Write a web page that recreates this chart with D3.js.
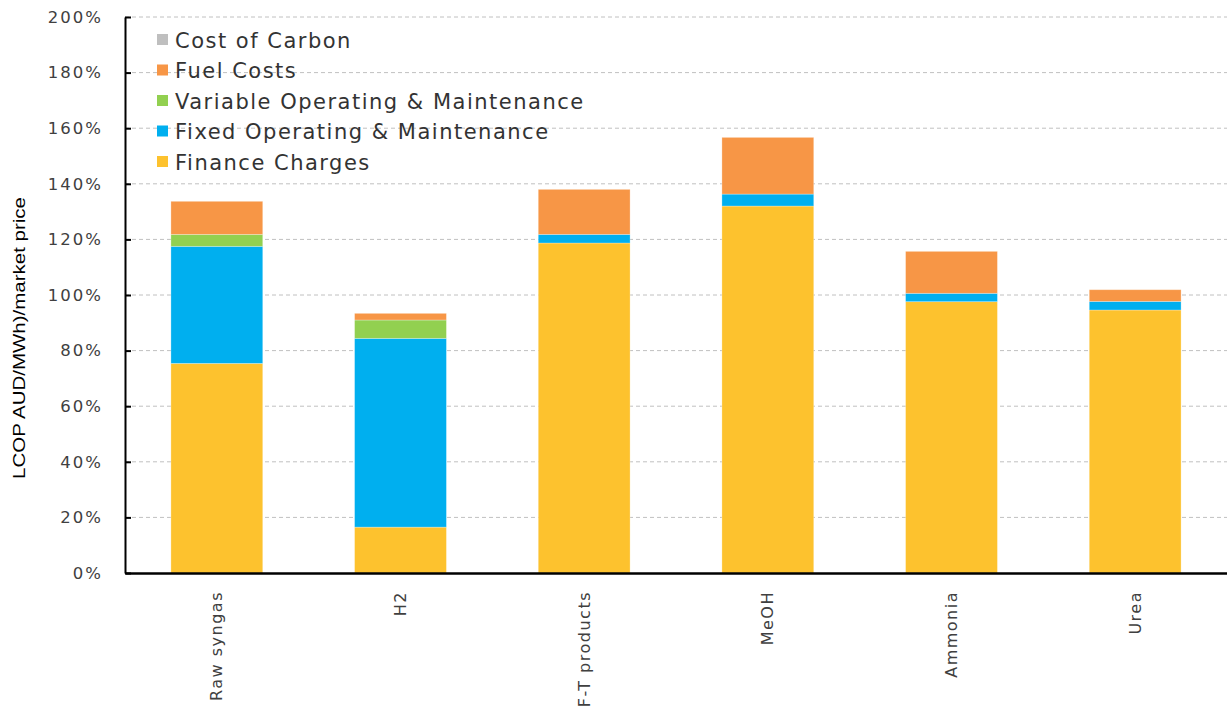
<!DOCTYPE html>
<html><head><meta charset="utf-8">
<script src="https://cdn.jsdelivr.net/npm/d3@7"></script>
<style>body{margin:0;background:#fff}svg{display:block}</style>
</head><body>
<svg id="c" width="1227" height="708"></svg>
<script>
const categories = ["Raw syngas","H2","F-T products","MeOH","Ammonia","Urea"];
const seriesNames = ["Finance Charges","Fixed Operating & Maintenance","Variable Operating & Maintenance","Fuel Costs","Cost of Carbon"];
const financeCharges = [75.4, 16.5, 118.7, 132.0, 97.6, 94.6];
const fixedOM = [42.1, 67.9, 3.1, 4.3, 3.0, 3.1];
const variableOM = [4.3, 6.6, 0, 0, 0, 0];
const fuelCosts = [11.9, 2.4, 16.2, 20.4, 15.1, 4.2];
const costOfCarbon = [0, 0, 0, 0, 0, 0];
const yTicks = [0,20,40,60,80,100,120,140,160,180,200];
const colors = ["#FDC22E","#00AFEF","#92D050","#F79646","#BFBFBF"];

const seriesValues = [financeCharges, fixedOM, variableOM, fuelCosts, costOfCarbon];
const rows = categories.map((c,i)=>{const r={cat:c}; seriesNames.forEach((s,j)=>r[s]=seriesValues[j][i]); return r;});
const stack = d3.stack().keys(seriesNames)(rows);

const svg = d3.select("#c");
const L=125, R=1227, T=17, B=573;
const x = d3.scaleBand().domain(categories).range([L,R]).paddingInner(0.5).paddingOuter(0.25);
const y = d3.scaleLinear().domain([0,200]).range([B,T]);
const font = "'DejaVu Sans', sans-serif";

// gridlines
svg.append("g").selectAll("line").data(yTicks.filter(t=>t>0)).join("line")
  .attr("x1",L).attr("x2",R).attr("y1",d=>y(d)).attr("y2",d=>y(d))
  .attr("stroke","#C0C0C0").attr("stroke-width",1).attr("stroke-dasharray","4,3");

// bars
svg.append("g").selectAll("g").data(stack).join("g").attr("fill",(d,i)=>colors[i])
  .selectAll("rect").data(d=>d).join("rect")
  .attr("x",d=>x(d.data.cat)).attr("width",x.bandwidth())
  .attr("y",d=>y(d[1])).attr("height",d=>Math.max(0,y(d[0])-y(d[1])))
  .attr("stroke",(d)=> d[1]-d[0]>0 ? "rgba(255,255,255,0.35)" : "none").attr("stroke-width",0.8);

// y axis
const ya = svg.append("g").attr("transform",`translate(${L},0)`)
  .call(d3.axisLeft(y).tickValues(yTicks).tickFormat(d=>d+"%").tickSizeInner(-6).tickSizeOuter(0).tickPadding(22));
ya.select(".domain").attr("stroke","#000").attr("stroke-width",2);
ya.selectAll(".tick line").attr("stroke","#000").attr("stroke-width",2);
ya.selectAll("text").attr("font-family",font).attr("font-size",16.5).attr("letter-spacing",2).attr("fill","#404040");

// x axis
const xa = svg.append("g").attr("transform",`translate(0,${B})`)
  .call(d3.axisBottom(x).tickSize(0).tickPadding(0));
xa.select(".domain").attr("stroke","#000").attr("stroke-width",2.5);
xa.selectAll("text").attr("font-family",font).attr("font-size",16).attr("letter-spacing",1.5).attr("fill","#404040")
  .attr("text-anchor","end").attr("transform","translate(0,18) rotate(-90)").attr("dy","0.35em").attr("y",0).attr("x",0);

// y title
svg.append("text").attr("transform","translate(25,338) rotate(-90)").attr("text-anchor","middle")
  .attr("font-family","'Liberation Sans', Arial, sans-serif").attr("font-size",16).attr("fill","#000")
  .attr("textLength",282).attr("lengthAdjust","spacingAndGlyphs")
  .text("LCOP AUD/MWh)/market price");

// legend (reverse order: top is Cost of Carbon)
const leg = svg.append("g");
const legOrder = seriesNames.map((s,i)=>({s,c:colors[i]})).reverse();
legOrder.forEach((d,i)=>{
  const cy = 40 + i*30.5;
  leg.append("rect").attr("x",157).attr("y",cy-6).attr("width",11).attr("height",11).attr("fill",d.c);
  leg.append("text").attr("x",175).attr("y",cy).attr("dy","0.36em")
    .attr("font-family",font).attr("font-size",21).attr("letter-spacing",1.5).attr("fill","#333").text(d.s);
});
</script>
</body></html>
